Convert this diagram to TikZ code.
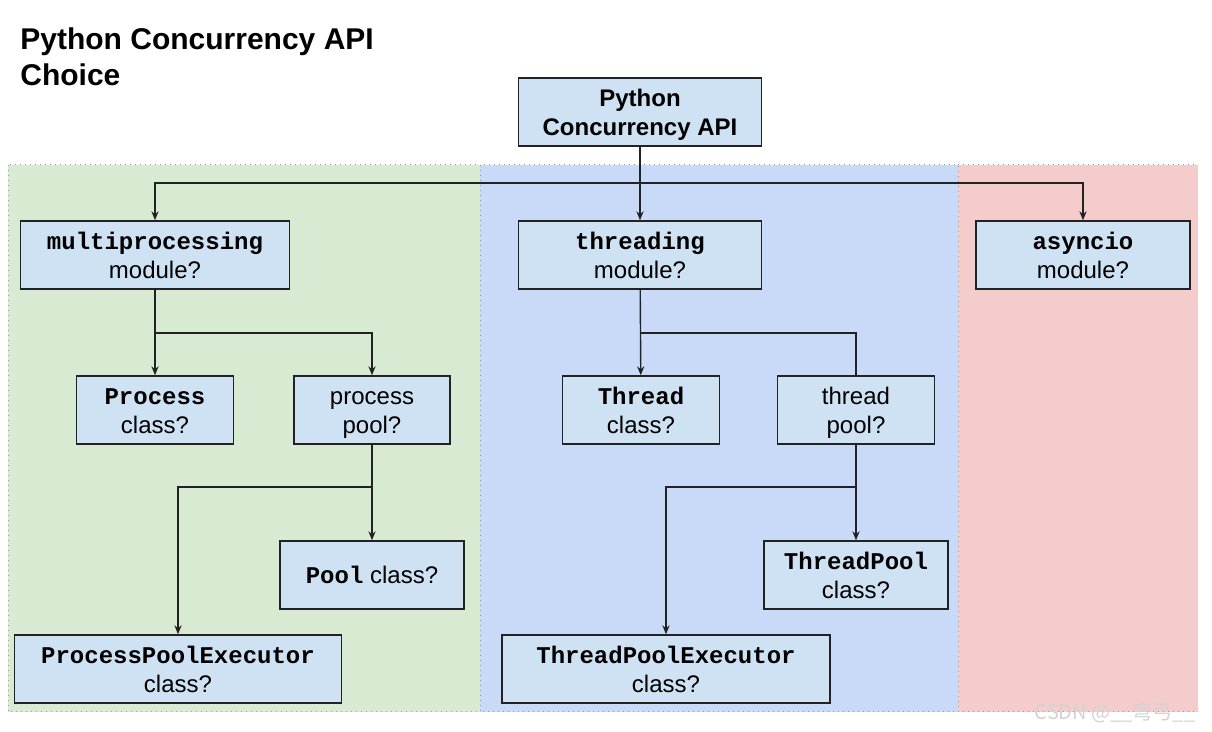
\documentclass[tikz,border=0pt]{standalone}
\usepackage{fontspec}
\setmainfont{Liberation Sans}
\setmonofont{Liberation Mono}
\newfontfamily\cjkfont{Noto Sans CJK SC}
\usetikzlibrary{arrows.meta}
\definecolor{boxfill}{HTML}{CFE2F3}
\definecolor{greenpanel}{HTML}{D9EAD3}
\definecolor{bluepanel}{HTML}{C9DAF8}
\definecolor{redpanel}{HTML}{F4CCCC}
\definecolor{linedark}{HTML}{222222}
\newcommand{\cd}[1]{\texttt{\textbf{#1}}}

\begin{document}
\begin{tikzpicture}[x=0.5pt, y=-0.5pt,
  box/.style = {draw=linedark, fill=boxfill, line width=0.7pt, align=center, minimum height=34pt, inner sep=0pt, font=\fontsize{12}{14.5}\selectfont, execute at begin node={\rule{0pt}{#1}}, execute at end node=\strut},
  box/.default = 28.2pt,
  conn/.style = {draw=linedark, line width=0.7pt},
  arr/.style = {conn, -{Stealth[length=4.5pt, width=3.6pt]}},
  panel/.style = {draw=gray!80, dotted, line width=0.5pt}]
\useasboundingbox (0,0) rectangle (1212,732);
% panels
\fill[greenpanel] (8,165) rectangle (480,712);
\fill[bluepanel] (480,165) rectangle (958,712);
\fill[redpanel] (958,165) rectangle (1198,712);
\draw[panel] (8,165) rectangle (480,712);
\draw[panel] (480,165) rectangle (958,712);
\draw[panel] (958,712) -- (1198,712);
\draw[panel] (958,165) -- (1198,165);
% title
\node[anchor=north west, inner sep=0pt, align=left, font=\bfseries\fontsize{15}{18}\selectfont] (title) at (20,27) {Python Concurrency API\\Choice};
% nodes
\node[box, minimum width=121.5pt, font=\bfseries\fontsize{12}{14.5}\selectfont] (api) at (640,112) {Python\\Concurrency API};
\node[box, minimum width=134.5pt] (mp) at (155,255) {\cd{multiprocessing}\\module?};
\node[box, minimum width=121.5pt] (thr) at (640,255) {\cd{threading}\\module?};
\node[box, minimum width=107pt] (asy) at (1083,255) {\cd{asyncio}\\module?};
\node[box, minimum width=78.5pt] (proc) at (155,410) {\cd{Process}\\class?};
\node[box, minimum width=78pt] (ppool) at (372,410) {process\\pool?};
\node[box=13.2pt, minimum width=92pt] (pool) at (372,575) {\cd{Pool} class?};
\node[box, minimum width=163.5pt] (ppe) at (178,669) {\cd{ProcessPoolExecutor}\\class?};
\node[box, minimum width=78.5pt] (thread) at (641,410) {\cd{Thread}\\class?};
\node[box, minimum width=78.5pt] (tpool) at (856,410) {thread\\pool?};
\node[box, minimum width=92pt] (tp) at (856,575) {\cd{ThreadPool}\\class?};
\node[box, minimum width=164pt] (tpe) at (666,669) {\cd{ThreadPoolExecutor}\\class?};
% branch points
\coordinate (hub) at (640,183);
\coordinate (mphub) at (155,333);
\coordinate (pphub) at (372,487);
\coordinate (thhub) at (641,333);
\coordinate (tphub) at (856,487);
% connectors
\draw[arr] (api) -- (thr);
\draw[arr] (hub) -| (mp);
\draw[arr] (hub) -| (asy);
\draw[arr] (mp) -- (proc);
\draw[arr] (mphub) -| (ppool);
\draw[arr] (ppool) -- (pool);
\draw[arr] (pphub) -| (ppe);
\draw[arr] (thr) -- (thread);
\draw[conn] (thhub) -| (tpool);
\draw[arr] (tpool) -- (tp);
\draw[arr] (tphub) -| (tpe);
% watermark
\node[font=\cjkfont\fontsize{10}{12}\selectfont, text=gray!35] (mark) at (1115,713) {CSDN @\_\_弯弓\_\_};
\end{tikzpicture}
\end{document}
